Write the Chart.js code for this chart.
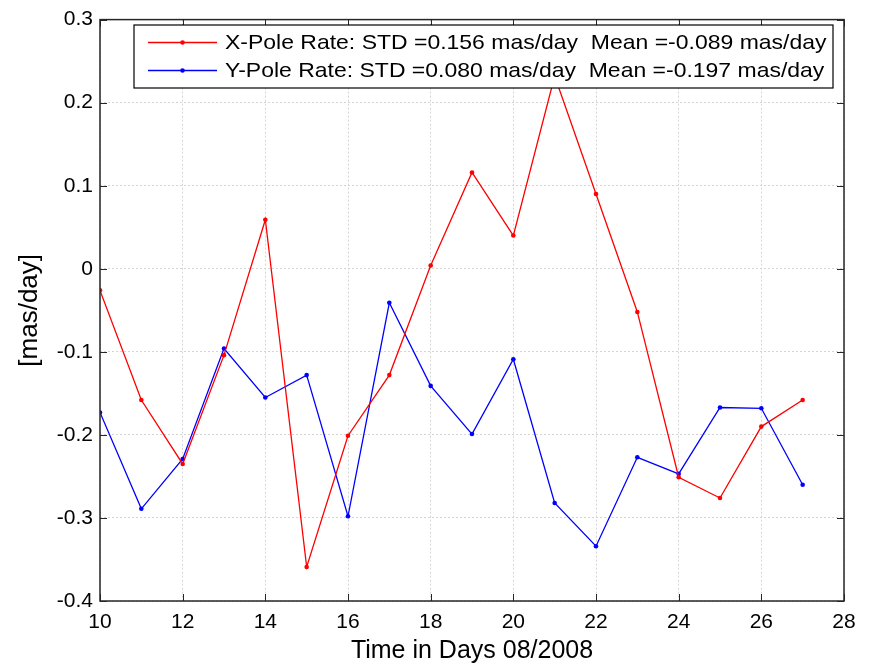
<!DOCTYPE html>
<html>
<head>
<meta charset="utf-8">
<script src="https://cdn.jsdelivr.net/npm/chart.js@4"></script>
<style>
  html, body { margin: 0; padding: 0; background: #fff; }
</style>
</head>
<body>
<canvas id="myChart" width="875" height="667"></canvas>
<script>
// data
const days = [10, 11, 12, 13, 14, 15, 16, 17, 18, 19, 20, 21, 22, 23, 24, 25, 26, 27];
const xPoleRate = [-0.026, -0.158, -0.235, -0.104, 0.059, -0.359, -0.201, -0.128, 0.004, 0.116, 0.040, 0.232, 0.090, -0.052, -0.251, -0.276, -0.190, -0.158];
const yPoleRate = [-0.173, -0.289, -0.229, -0.096, -0.155, -0.128, -0.298, -0.041, -0.141, -0.199, -0.109, -0.282, -0.334, -0.227, -0.247, -0.167, -0.168, -0.260];
const seriesLabels = [
  "X-Pole Rate: STD =0.156 mas/day  Mean =-0.089 mas/day",
  "Y-Pole Rate: STD =0.080 mas/day  Mean =-0.197 mas/day",
];
const seriesColors = ["#ff0000", "#0000ff"];

const FONT = "'Liberation Sans', Arial, sans-serif";

// box, inward ticks and legend drawn over the plot, matlab style
const matlabFrame = {
  id: "matlabFrame",
  afterDatasetsDraw(chart) {
    const { ctx, chartArea: { left, right, top, bottom }, scales } = chart;
    ctx.save();
    ctx.strokeStyle = "#262626";
    ctx.lineWidth = 1.5;
    ctx.strokeRect(left, top, right - left, bottom - top);

    const tl = 7;
    ctx.lineWidth = 1;
    ctx.beginPath();
    scales.x.ticks.forEach((t) => {
      const px = Math.round(scales.x.getPixelForValue(t.value)) + 0.5;
      ctx.moveTo(px, bottom);
      ctx.lineTo(px, bottom - tl);
      ctx.moveTo(px, top);
      ctx.lineTo(px, top + tl);
    });
    scales.y.ticks.forEach((t) => {
      const py = Math.round(scales.y.getPixelForValue(t.value)) + 0.5;
      ctx.moveTo(left, py);
      ctx.lineTo(left + tl, py);
      ctx.moveTo(right, py);
      ctx.lineTo(right - tl, py);
    });
    ctx.stroke();

    // legend
    const lx = 134, ly = 25, lw = 699, lh = 63;
    ctx.fillStyle = "#ffffff";
    ctx.fillRect(lx, ly, lw, lh);
    ctx.strokeStyle = "#000000";
    ctx.lineWidth = 1.2;
    ctx.strokeRect(lx, ly, lw, lh);

    ctx.font = "21px " + FONT;
    ctx.textBaseline = "middle";
    ctx.textAlign = "left";
    seriesLabels.forEach((label, i) => {
      const rowY = 42.5 + i * 28;
      ctx.strokeStyle = seriesColors[i];
      ctx.lineWidth = 1.3;
      ctx.beginPath();
      ctx.moveTo(148, rowY);
      ctx.lineTo(217, rowY);
      ctx.stroke();
      ctx.fillStyle = seriesColors[i];
      ctx.beginPath();
      ctx.arc(182.5, rowY, 2.3, 0, 2 * Math.PI);
      ctx.fill();
      // text is a little wider in the picture
      ctx.save();
      ctx.translate(225, rowY + 1);
      ctx.scale(1.094, 1);
      ctx.fillStyle = "#000000";
      ctx.fillText(label, 0, 0);
      ctx.restore();
    });
    ctx.restore();
  },
};

const makeSeries = (values) => days.map((d, i) => ({ x: d, y: values[i] }));

const config = {
  type: "line",
  data: {
    datasets: [
      {
        label: seriesLabels[0],
        data: makeSeries(xPoleRate),
        borderColor: seriesColors[0],
        backgroundColor: seriesColors[0],
        borderWidth: 1.3,
        pointRadius: 2.3,
        pointBorderWidth: 0,
        tension: 0,
      },
      {
        label: seriesLabels[1],
        data: makeSeries(yPoleRate),
        borderColor: seriesColors[1],
        backgroundColor: seriesColors[1],
        borderWidth: 1.3,
        pointRadius: 2.3,
        pointBorderWidth: 0,
        tension: 0,
      },
    ],
  },
  options: {
    responsive: false,
    animation: false,
    layout: {
      padding: { top: 14, right: 31, left: 0, bottom: 0 },
    },
    scales: {
      x: {
        type: "linear",
        min: 10,
        max: 28,
        afterFit(scale) { scale.height = 66; },
        ticks: {
          stepSize: 2,
          color: "#000",
          font: { family: FONT, size: 21 },
          padding: 9,
          maxRotation: 0,
        },
        grid: {
          color: "#d4d4d4",
          lineWidth: 1,
          drawTicks: false,
        },
        border: { display: false, dash: [2, 2] },
        title: {
          display: true,
          text: "Time in Days 08/2008",
          color: "#000",
          font: { family: FONT, size: 25 },
          padding: { top: 0, bottom: 1 },
        },
      },
      y: {
        min: -0.4,
        max: 0.3,
        afterFit(scale) { scale.width = 100; },
        ticks: {
          stepSize: 0.1,
          color: "#000",
          font: { family: FONT, size: 21 },
          padding: 7,
          callback: (v) => (Math.abs(v) < 1e-9 ? "0" : Number(v).toFixed(1)),
        },
        grid: {
          color: "#d4d4d4",
          lineWidth: 1,
          drawTicks: false,
        },
        border: { display: false, dash: [2, 2] },
        title: {
          display: true,
          text: "[mas/day]",
          color: "#000",
          font: { family: FONT, size: 26 },
          padding: { top: 14, bottom: 0 },
        },
      },
    },
    plugins: {
      legend: { display: false },
      tooltip: { enabled: false },
    },
  },
  plugins: [matlabFrame],
};

const myChart = new Chart(document.getElementById("myChart"), config);
</script>
</body>
</html>
